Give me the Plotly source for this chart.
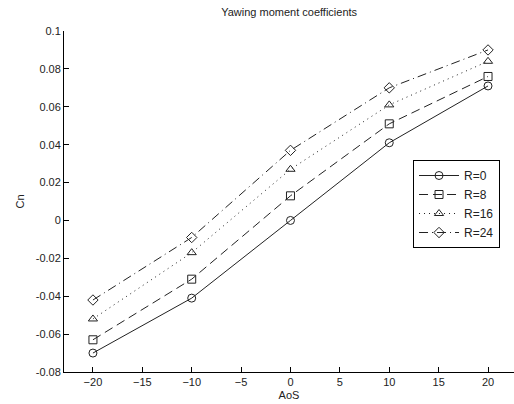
import plotly.graph_objects as go

# Sideslip angles (deg) and yawing moment coefficients per R value
aos = [-20, -10, 0, 10, 20]
cn_r0 = [-0.070, -0.041, 0.000, 0.041, 0.071]
cn_r8 = [-0.063, -0.031, 0.013, 0.051, 0.076]
cn_r16 = [-0.052, -0.017, 0.027, 0.061, 0.084]
cn_r24 = [-0.042, -0.009, 0.037, 0.070, 0.090]
series_names = ["R=0", "R=8", "R=16", "R=24"]
x_ticks = [-20, -15, -10, -5, 0, 5, 10, 15, 20]
y_ticks = [-0.08, -0.06, -0.04, -0.02, 0, 0.02, 0.04, 0.06, 0.08, 0.1]
y_tick_text = ["-0.08", "-0.06", "-0.04", "-0.02", "0", "0.02", "0.04", "0.06", "0.08", "0.1"]

ink = "#222222"
font_family = "Liberation Sans, Arial, sans-serif"

styles = [
    ("solid", "circle-open"),
    ("9px,5px", "square-open"),
    ("1px,4px", "triangle-up-open"),
    ("9px,4px,1px,4px", "diamond-open"),
]

fig = go.Figure()
for name, values, (dash, symbol) in zip(series_names, [cn_r0, cn_r8, cn_r16, cn_r24], styles):
    fig.add_trace(go.Scatter(
        x=aos, y=values, name=name, mode="lines+markers",
        line=dict(color=ink, width=1, dash=dash),
        marker=dict(symbol=symbol, size=8, color=ink, line=dict(width=1, color=ink)),
    ))

fig.update_layout(
    width=514, height=404,
    margin=dict(l=64, r=0, t=31, b=32),
    paper_bgcolor="white", plot_bgcolor="white",
    font=dict(family=font_family, size=11, color=ink),
    title=dict(text="Yawing moment coefficients", x=0.5625, xanchor="center",
               y=1 - 12 / 404, yanchor="middle", font=dict(size=11, color=ink)),
    legend=dict(x=0.7756, y=0.6217, xanchor="left", yanchor="top",
                bgcolor="white", bordercolor="#000000", borderwidth=1,
                font=dict(size=12, color=ink), tracegroupgap=0, itemwidth=40),
    showlegend=True,
)
fig.update_xaxes(
    range=[-22.93, 22.63], tickvals=x_ticks, showgrid=False, zeroline=False,
    showline=True, linecolor="#000000", linewidth=1,
    ticks="inside", ticklen=5, tickcolor="#000000",
    title=dict(text="AoS", standoff=4, font=dict(size=11)),
)
fig.update_yaxes(
    range=[-0.08, 0.1], tickvals=y_ticks, ticktext=y_tick_text, showgrid=False, zeroline=False,
    showline=True, linecolor="#000000", linewidth=1,
    ticks="inside", ticklen=5, tickcolor="#000000",
    title=dict(text="Cn", standoff=8, font=dict(size=11)),
)

fig.write_html("out.html")
